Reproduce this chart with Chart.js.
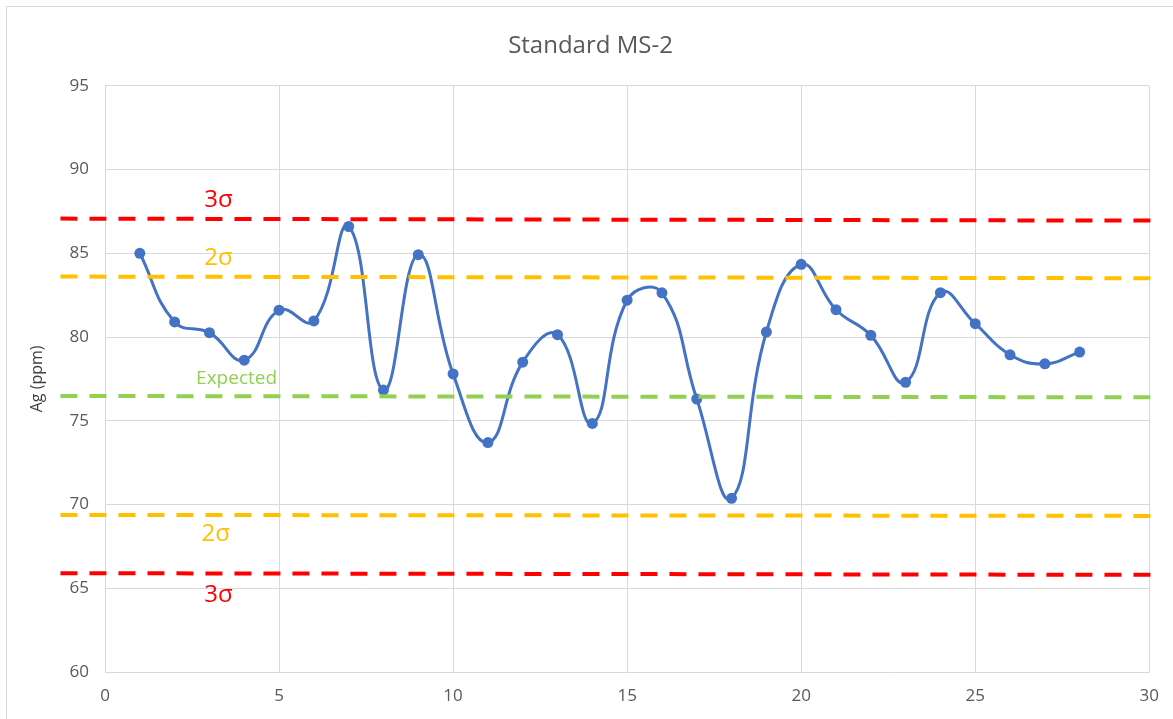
<!DOCTYPE html>
<html>
<head>
<meta charset="utf-8">
<script src="https://cdn.jsdelivr.net/npm/chart.js@4/dist/chart.umd.min.js"></script>
<style>
  html, body { margin: 0; padding: 0; background: #ffffff; overflow: hidden; }
  #frame { position: absolute; left: 6px; top: 6px; width: 1300px; height: 900px; border: 1px solid #d9d9d9; box-sizing: border-box; }
  #wrap { position: absolute; left: 0; top: 0; width: 1173px; height: 719px; }
</style>
</head>
<body>
<div id="frame"></div>
<div id="wrap"><canvas id="c" width="1173" height="719"></canvas></div>
<script>
// ---- data ----
const sampleNo = [1,2,3,4,5,6,7,8,9,10,11,12,13,14,15,16,17,18,19,20,21,22,23,24,25,26,27,28];
const agPpm = [85.0,80.9,80.26,78.62,81.6,80.96,86.6,76.83,84.92,77.8,73.7,78.5,80.14,74.84,82.2,82.64,76.3,70.37,80.3,84.34,81.63,80.1,77.3,82.65,80.8,78.94,78.4,79.1];

// control lines: [left value, right value]
const lineX = [-1.28, 30.12];
const upper3s = [87.07, 86.95];
const upper2s = [83.61, 83.51];
const expected = [76.48, 76.40];
const lower2s = [69.38, 69.32];
const lower3s = [65.90, 65.80];

const xTicks = [0,5,10,15,20,25,30];
const yTicks = [60,65,70,75,80,85,90,95];

const TEXT = '#595959';
const FONT = "'Open Sans', 'Noto Sans', sans-serif";

function ctrl(vals, color) {
  return {
    data: lineX.map((x, i) => ({x: x, y: vals[i]})),
    borderColor: color,
    borderWidth: 4,
    borderDash: [17, 12],
    borderCapStyle: 'butt',
    pointRadius: 0,
    showLine: true,
    fill: false,
    tension: 0,
    clip: false,
    order: 1
  };
}

const labels = [
  {text: '3σ', x: 3.26, y: 88.19, color: '#FF0000', size: 24},
  {text: '2σ', x: 3.26, y: 84.73, color: '#FFC000', size: 24},
  {text: 'Expected', x: 3.78, y: 77.54, color: '#92D050', size: 19},
  {text: '2σ', x: 3.18, y: 68.24, color: '#FFC000', size: 24},
  {text: '3σ', x: 3.26, y: 64.60, color: '#FF0000', size: 24}
];

const labelPlugin = {
  id: 'ctrlLabels',
  afterDatasetsDraw(chart) {
    const {ctx, scales: {x, y}} = chart;
    ctx.save();
    ctx.textAlign = 'center';
    ctx.textBaseline = 'middle';
    labels.forEach(l => {
      ctx.fillStyle = l.color;
      ctx.font = l.size + 'px ' + FONT;
      ctx.fillText(l.text, x.getPixelForValue(l.x), y.getPixelForValue(l.y));
    });
    ctx.restore();
  }
};

new Chart(document.getElementById('c'), {
  type: 'scatter',
  data: {
    datasets: [
      {
        data: sampleNo.map((x, i) => ({x: x, y: agPpm[i]})),
        borderColor: '#4472C4',
        backgroundColor: '#4472C4',
        borderWidth: 3,
        pointRadius: 5.5,
        pointBorderWidth: 0,
        showLine: true,
        tension: 0.45,
        cubicInterpolationMode: 'default',
        fill: false,
        order: 2
      },
      ctrl(upper3s, '#FF0000'),
      ctrl(upper2s, '#FFC000'),
      ctrl(expected, '#92D050'),
      ctrl(lower2s, '#FFC000'),
      ctrl(lower3s, '#FF0000')
    ]
  },
  options: {
    responsive: false,
    animation: false,
    events: [],
    layout: { padding: { left: 28, right: 20, top: 7, bottom: 0 } },
    plugins: {
      legend: { display: false },
      tooltip: { enabled: false },
      title: {
        display: true,
        text: 'Standard MS-2',
        color: TEXT,
        font: { family: FONT, size: 24, weight: 'normal', lineHeight: 1.2 },
        padding: { top: 25, bottom: 25 }
      }
    },
    scales: {
      x: {
        type: 'linear',
        min: 0, max: 30,
        afterBuildTicks(s) { s.ticks = xTicks.map(v => ({value: v})); },
        afterFit(s) { s.height = 47; },
        ticks: { color: TEXT, font: { family: FONT, size: 17 }, padding: 14 },
        grid: { color: '#d9d9d9', lineWidth: 1, drawTicks: false },
        border: { color: '#d9d9d9', width: 1 }
      },
      y: {
        type: 'linear',
        min: 60, max: 95,
        afterBuildTicks(s) { s.ticks = yTicks.map(v => ({value: v})); },
        afterFit(s) { s.width = 77; },
        ticks: { color: TEXT, font: { family: FONT, size: 17 }, padding: 16 },
        grid: { color: '#d9d9d9', lineWidth: 1, drawTicks: false },
        border: { color: '#d9d9d9', width: 1 },
        title: {
          display: true,
          text: 'Ag (ppm)',
          color: '#404040',
          font: { family: FONT, size: 16 },
          padding: { top: 0, bottom: 0 }
        }
      }
    }
  },
  plugins: [labelPlugin]
});
</script>
</body>
</html>
